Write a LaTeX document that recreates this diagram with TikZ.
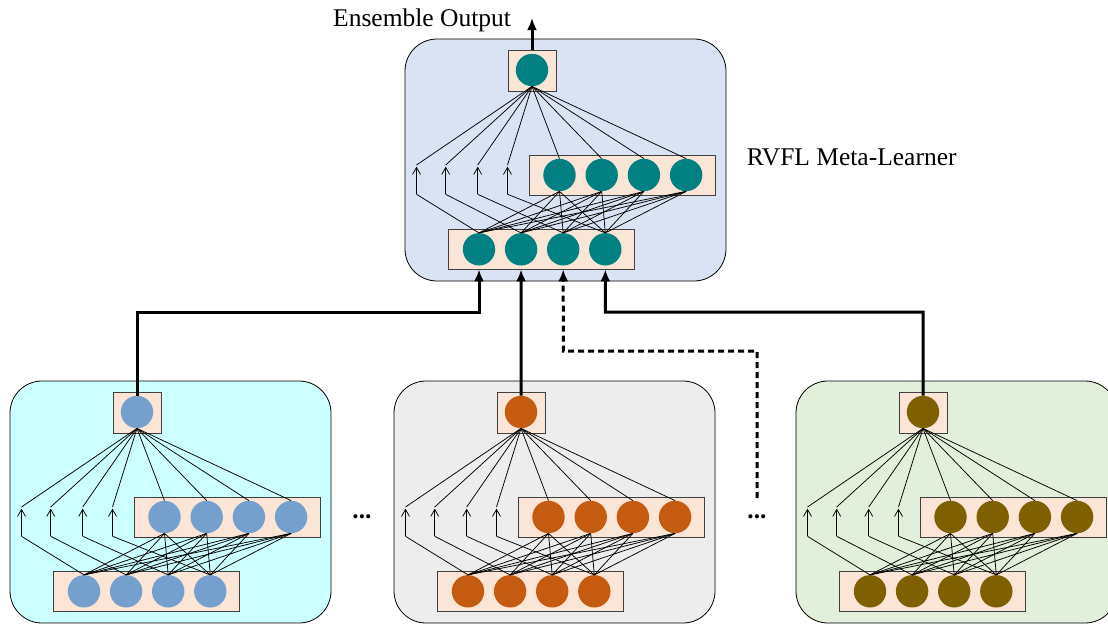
\documentclass[tikz,border=0pt]{standalone}
\usepackage{fontspec}
\setmainfont{Liberation Serif}
\usetikzlibrary{arrows.meta}
\definecolor{peach}{HTML}{FBE5D6}
\definecolor{panelTop}{HTML}{DAE3F3}
\definecolor{panelL}{HTML}{CCFFFF}
\definecolor{panelM}{HTML}{EDEDED}
\definecolor{panelR}{HTML}{E2EFDA}
\definecolor{nTeal}{HTML}{008080}
\definecolor{nBlue}{HTML}{75A0CD}
\definecolor{nOrange}{HTML}{C55A11}
\definecolor{nOlive}{HTML}{7F6000}
\tikzset{
  panel/.style={draw=black, line width=0.8pt, rounded corners=32pt},
  layerbox/.style={draw=black!75, line width=0.8pt, fill=peach, rectangle, inner sep=0pt},
  neuron/.style={circle, inner sep=0pt, minimum size=32.4pt},
  wire/.style={line width=0.75pt},
  direct/.style={line width=0.75pt, -{Straight Barb[length=7pt,width=8pt]}},
  feed/.style={line width=3pt, -{Latex[length=12pt,width=10pt]}},
  feeddash/.style={feed, dash pattern=on 6pt off 4pt},
  lbl/.style={font=\fontsize{25.5}{30}\selectfont, inner sep=0pt},
}
\newcommand{\rvflnet}[5]{%
  \begin{scope}[shift={(#1,#2)}]
    \draw[panel, fill=#4] (-127,-31) rectangle (194,211);
    \node[layerbox, minimum width=48pt, minimum height=41pt] (#3ob) at (0,0.5) {};
    \node[layerbox, minimum width=185.7pt, minimum height=40pt] (#3hb) at (90.2,105) {};
    \node[layerbox, minimum width=185.6pt, minimum height=40pt] (#3ib) at (9.5,179) {};
    \node[neuron, fill=#5] (#3o) at (0,0) {};
    \foreach \k/\ax in {1/-115.5,2/-86.3,3/-54.3,4/-24.5} {
      \pgfmathsetmacro{\hx}{27.5+42.2*(\k-1)}
      \pgfmathsetmacro{\ix}{-53+42.1*(\k-1)}
      \node[neuron, fill=#5] (#3h\k) at (\hx,105) {};
      \node[neuron, fill=#5] (#3i\k) at (\ix,179.3) {};
      \coordinate (#3t\k) at (\ax,96.7);
      \coordinate (#3j\k) at (\ax,95);
      \coordinate (#3b\k) at (\ax,124.3);
    }
    \foreach \k in {1,...,4} {
      \draw[wire] (#3o.south) -- (#3h\k.north);
      \draw[wire] (#3o.south) -- (#3j\k);
      \draw[direct] (#3b\k) -- (#3t\k);
      \draw[wire] (#3b\k) -- (#3i\k.north);
      \foreach \m in {1,...,4} {
        \draw[wire] (#3h\k.south) -- (#3i\m.north);
      }
    }
  \end{scope}}
\begin{document}
\begin{tikzpicture}[x=1pt, y=-1pt]
  \useasboundingbox (0,0) rectangle (1108,624);
  \clip (0,0) rectangle (1108,624);
  \rvflnet{532}{70}{m}{panelTop}{nTeal}
  \rvflnet{137}{412}{l}{panelL}{nBlue}
  \rvflnet{521}{412}{c}{panelM}{nOrange}
  \rvflnet{923}{412}{r}{panelR}{nOlive}
  % labels
  \node[lbl, anchor=base west] (eo) at (333,26.7) {Ensemble Output};
  \node[lbl, anchor=base west] (meta) at (746.7,165) {RVFL Meta-Learner};
  \node[lbl, anchor=base] (dots1) at (362,518) {\textbf{...}};
  \node[lbl, anchor=base] (dots2) at (757,518) {\textbf{...}};
  % ensemble output arrow
  \coordinate (eotip) at (532,18);
  \draw[feed] (mob.north) -- (eotip);
  % feeds to meta-learner
  \coordinate (jl) at (479,312);
  \coordinate (jr) at (605.3,312);
  \coordinate (dturn) at (563.3,351);
  \coordinate (dstart) at (757,498);
  \draw[feed] (lo.north) |- (jl) -- (mi1 |- mib.south);
  \draw[feed] (co.north) -- (mi2 |- mib.south);
  \draw[feeddash] (dstart) |- (dturn) -- (mi3 |- mib.south);
  \draw[feed] (ro.north) |- (jr) -- (mi4 |- mib.south);
\end{tikzpicture}
\end{document}
